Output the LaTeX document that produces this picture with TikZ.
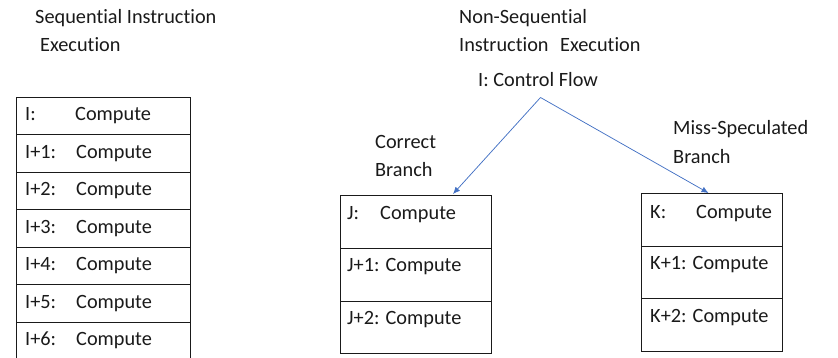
\documentclass[tikz,border=0pt]{standalone}
\usepackage{fontspec}
\setmainfont[RawFeature={-liga;-clig;-dlig}]{Carlito}
\usetikzlibrary{arrows.meta}
\definecolor{flowblue}{HTML}{4472C4}
\definecolor{inkgray}{HTML}{1A1A1A}
\tikzset{
  txt/.style={anchor=west, inner sep=0pt, text=inkgray, font=\fontsize{20.3}{24}\selectfont},
  cell/.style={draw=inkgray, line width=0.9pt, anchor=north west, inner sep=0pt},
  flow/.style={draw=flowblue, line width=0.75pt, -{Latex[length=7pt,width=6pt]}},
}
\newcommand{\tabto}[2]{\makebox[#1][l]{#2}}
\begin{document}
\begin{tikzpicture}[x=1pt,y=-1pt]
  \useasboundingbox (0,0) rectangle (838,358);
  \clip (0,0) rectangle (838,358);

  % headings
  \node[txt] (seqA) at (35,18) {Sequential Instruction};
  \node[txt] (seqB) at (40,45) {Execution};
  \node[txt] (nsA) at (459,18) {Non-Sequential};
  \node[txt] (nsB) at (459,45) {Instruction\hspace{7pt} Execution};
  \node[txt] (ctrl) at (478,80) {I: Control Flow};
  \node[txt] (corrA) at (375,142) {Correct};
  \node[txt] (corrB) at (375,170) {Branch};
  \node[txt] (missA) at (673,129) {Miss-Speculated};
  \node[txt] (missB) at (673,157) {Branch};

  % sequential instruction column
  \foreach \k/\top/\h in {0/96.7/37.6, 1/134.3/37.7, 2/172/37.3, 3/209.3/37.7,
                          4/247/37.3, 5/284.3/37.7, 6/322/45} {
    \node[cell, minimum width=174pt, minimum height=\h pt] (s\k) at (16,\top) {};
  }
  \node[txt] (st0) at (25,116) {\tabto{50pt}{I:}Compute};
  \foreach \k/\y in {1/154, 2/191, 3/228.5, 4/266, 5/303.5, 6/340.5} {
    \node[txt] (st\k) at (25,\y) {\tabto{51pt}{I+\k:}Compute};
  }

  % correct branch column
  \foreach \k/\top in {0/195, 1/248.3, 2/300.7} {
    \node[cell, minimum width=151pt, minimum height=52.6pt] (j\k) at (340,\top) {};
  }
  \node[txt] (jt0) at (347,215) {\tabto{33pt}{J:}Compute};
  \node[txt] (jt1) at (347,267) {J+1: Compute};
  \node[txt] (jt2) at (347,320) {J+2: Compute};

  % miss-speculated branch column
  \foreach \k/\top in {0/193.3, 1/245.7, 2/298.3} {
    \node[cell, minimum width=141pt, minimum height=52.6pt] (k\k) at (641,\top) {};
  }
  \node[txt] (kt0) at (650,213.3) {\tabto{46pt}{K:}Compute};
  \node[txt] (kt1) at (650,265) {K+1: Compute};
  \node[txt] (kt2) at (650,317.7) {K+2: Compute};

  % control flow fork
  \coordinate (fork) at (540.5,97.5);
  \coordinate (jin) at (453,194);
  \coordinate (kin) at (708.5,193);
  \draw[flow] (fork) -- (jin);
  \draw[flow] (fork) -- (kin);
\end{tikzpicture}
\end{document}
